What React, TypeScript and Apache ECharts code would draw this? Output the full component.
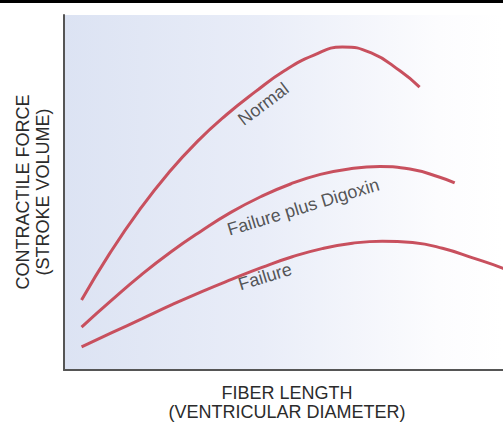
import React, { useEffect, useRef } from "react";
import * as echarts from "echarts";

// Fiber length (arbitrary units, 0-100) and contractile force (arbitrary units, 0-100)
const normalX = [4, 10.6, 17.2, 23.8, 30.4, 37.0, 43.6, 50.2, 56.8, 63.4, 70.0, 76.6, 81];
const normalY = [19.7, 33.2, 45.1, 55.5, 64.4, 71.9, 78.4, 84.3, 88.6, 91.0, 89.3, 84.2, 79.7];

const digoxinX = [4, 10.8, 17.6, 24.4, 31.2, 38.0, 44.8, 51.6, 58.4, 65.2, 72.0, 78.8, 85.6, 89];
const digoxinY = [12.1, 19.6, 26.8, 33.3, 39.1, 44.4, 48.8, 52.4, 55.1, 56.7, 57.3, 56.6, 54.3, 52.7];

const failureX = [4, 10.9, 17.7, 24.6, 31.4, 38.3, 45.1, 52.0, 58.8, 65.7, 72.5, 79.4, 86.2, 93.1, 99.9, 106.8];
const failureY = [6.5, 10.5, 14.4, 18.4, 22.1, 25.6, 28.9, 31.9, 34.2, 35.7, 36.3, 35.9, 34.3, 31.6, 28.7, 25.0];

const curveNames = ["Normal", "Failure plus Digoxin", "Failure"];
const labelX = [45.4, 54.5, 45.8];
const labelY = [74.9, 45.9, 26.3];
const labelAngle = [37, 17, 17];

const xTitle = ["FIBER LENGTH", "(VENTRICULAR DIAMETER)"];
const yTitle = ["CONTRACTILE FORCE", "(STROKE VOLUME)"];

const zip = (xs: number[], ys: number[]) => xs.map((x, i) => [x, ys[i]]);

export default function App() {
  const ref = useRef<HTMLDivElement>(null);
  useEffect(() => {
    document.body.style.margin = "0";
    if (!ref.current) return;
    const chart = echarts.init(ref.current, null, { renderer: "svg" });
    const lineColor = "#c8505e";
    const font = "Liberation Sans, Arial, Helvetica, sans-serif";
    const lineSeries = (name: string, data: number[][]) => ({
      type: "line",
      name,
      data,
      smooth: 0.5,
      symbol: "none",
      clip: true,
      lineStyle: { color: lineColor, width: 3 },
      z: 3,
    });
    chart.setOption({
      animation: false,
      backgroundColor: "#ffffff",
      grid: {
        left: 64,
        right: 0,
        top: 15,
        bottom: 52,
        show: true,
        borderWidth: 0,
        backgroundColor: new echarts.graphic.LinearGradient(0, 0, 1, 0, [
          { offset: 0, color: "#dce3f3" },
          { offset: 0.45, color: "#e9edf8" },
          { offset: 0.85, color: "#fcfcfe" },
          { offset: 1, color: "#ffffff" },
        ]),
      },
      xAxis: {
        type: "value",
        min: 0,
        max: 100,
        axisLine: { show: true, lineStyle: { color: "#555", width: 2 } },
        axisTick: { show: false },
        axisLabel: { show: false },
        splitLine: { show: false },
      },
      yAxis: {
        type: "value",
        min: 0,
        max: 100,
        axisLine: { show: true, lineStyle: { color: "#555", width: 2 } },
        axisTick: { show: false },
        axisLabel: { show: false },
        splitLine: { show: false },
      },
      series: [
        lineSeries(curveNames[0], zip(normalX, normalY)),
        lineSeries(curveNames[1], zip(digoxinX, digoxinY)),
        lineSeries(curveNames[2], zip(failureX, failureY)),
        {
          type: "scatter",
          symbolSize: 0,
          z: 4,
          data: curveNames.map((n, i) => ({
            value: [labelX[i], labelY[i]],
            name: n,
            label: {
              show: true,
              position: "inside",
              formatter: n,
              rotate: labelAngle[i],
              color: "#2b2b2b",
              fontSize: 18,
              fontFamily: font,
              align: "center",
              verticalAlign: "middle",
            },
          })),
        },
      ],
      graphic: [
        {
          type: "rect",
          shape: { x: 0, y: 0, width: 503, height: 3 },
          style: { fill: "#000" },
        },
        {
          type: "text",
          x: 287,
          y: 393,
          style: {
            text: xTitle[0],
            fill: "#2b2b2b",
            font: `18px ${font}`,
            align: "center",
            verticalAlign: "middle",
          },
        },
        {
          type: "text",
          x: 287,
          y: 412,
          style: {
            text: xTitle[1],
            fill: "#2b2b2b",
            font: `18px ${font}`,
            align: "center",
            verticalAlign: "middle",
          },
        },
        {
          type: "text",
          x: 23,
          y: 192,
          rotation: Math.PI / 2,
          style: {
            text: yTitle[0],
            fill: "#2b2b2b",
            font: `18px ${font}`,
            align: "center",
            verticalAlign: "middle",
          },
        },
        {
          type: "text",
          x: 43,
          y: 192,
          rotation: Math.PI / 2,
          style: {
            text: yTitle[1],
            fill: "#2b2b2b",
            font: `18px ${font}`,
            align: "center",
            verticalAlign: "middle",
          },
        },
      ],
    });
    return () => chart.dispose();
  }, []);
  return <div ref={ref} style={{ width: 503, height: 422 }} />;
}
